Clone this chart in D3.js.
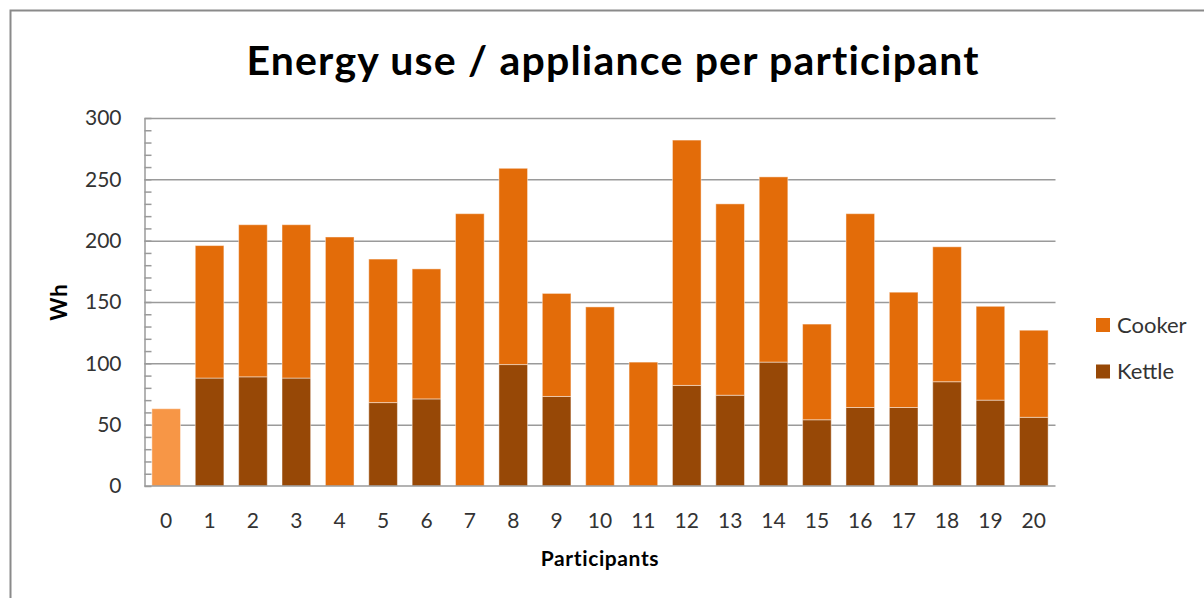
<!DOCTYPE html>
<html lang="en">
<head>
  <meta charset="UTF-8">
  <title>Energy use / appliance per participant</title>
</head>
<body>
<style>
  * {
    padding: 0;
    margin: 0;
  }

  body {
    background: #fff;
  }

  #app {
    width: 1204px;
    height: 598px;
  }

  text {
    font-family: Lato, "Open Sans", sans-serif;
  }
</style>

<div id="app"></div>

<script src="https://cdn.jsdelivr.net/npm/d3@7"></script>
<script>
  // values
  let participants = d3.range(0, 21).map(String)
  let kettle = [0, 88, 89, 88, 0, 68, 71, 0, 99, 73, 0, 0, 82, 74, 101, 54, 64, 64, 85, 70, 56]
  let cooker = [63, 108, 124, 125, 203, 117, 106, 222, 160, 84, 146, 101, 200, 156, 151, 78, 158, 94, 110, 76.5, 71]
  let seriesNames = ["Kettle", "Cooker"]
  let yTicks = [0, 50, 100, 150, 200, 250, 300]

  let $width = 1204, $height = 598
  let $left = 144.5, $right = 1055.5, $top = 118, $bottom = 486
  let colors = {Cooker: "#E36C09", Kettle: "#974806"}
  let firstColor = "#F79646"

  let rows = participants.map(function (p, i) {
    return {p: p, Kettle: kettle[i], Cooker: cooker[i]}
  })

  let stacked = d3.stack().keys(seriesNames)(rows)

  let svg = d3.select("#app").append("svg").attr("width", $width).attr("height", $height)

  // chart area border (runs off the right and bottom edge)
  svg.append("rect").attr("x", 10.5).attr("y", 10.5).attr("width", 1400).attr("height", 800)
    .attr("fill", "none").attr("stroke", "#8a8a8a").attr("stroke-width", 2)

  let x = d3.scaleBand().domain(participants).range([$left, $right])
    .paddingInner(0.34).paddingOuter(0.17)
  let y = d3.scaleLinear().domain([0, 300]).range([$bottom, $top])

  // gridlines
  svg.append("g").attr("transform", "translate(" + $left + ",0)")
    .call(d3.axisLeft(y).tickValues(yTicks.slice(1)).tickSize(-($right - $left)).tickFormat(""))
    .call(function (g) {
      g.select(".domain").remove()
      g.selectAll("line").attr("stroke", "#9a9a9a").attr("stroke-width", 1.5)
    })

  // bars
  svg.append("g").selectAll("g").data(stacked).enter().append("g")
    .each(function (s) {
      d3.select(this).selectAll("rect").data(s).enter().append("rect")
        .attr("x", function (d) { return x(d.data.p) })
        .attr("width", x.bandwidth())
        .attr("y", function (d) { return y(d[1]) })
        .attr("height", function (d) { return y(d[0]) - y(d[1]) })
        .attr("fill", function (d, i) {
          if (s.key == "Cooker" && i == 0) return firstColor
          return colors[s.key]
        })
        .attr("stroke", "rgba(255,255,255,0.45)")
        .attr("stroke-width", 1)
        .style("display", function (d) { return d[1] - d[0] > 0 ? null : "none" })
    })

  // y axis with minor ticks
  svg.append("g").attr("transform", "translate(" + $left + ",0)")
    .call(d3.axisLeft(y).tickValues(d3.range(0, 301, 10)).tickSizeInner(-7).tickSizeOuter(0).tickPadding(23)
      .tickFormat(function (d) { return d % 50 == 0 ? d : "" }))
    .call(function (g) {
      g.select(".domain").attr("stroke", "#9a9a9a").attr("stroke-width", 1.5)
      g.selectAll("line").attr("stroke", "#9a9a9a").attr("stroke-width", 1.5)
      g.selectAll("text").attr("font-size", "21px").attr("fill", "#333").attr("font-family", "Lato")
    })

  // x axis
  svg.append("g").attr("transform", "translate(0," + $bottom + ")")
    .call(d3.axisBottom(x).tickSize(0).tickPadding(27))
    .call(function (g) {
      g.select(".domain").attr("stroke", "#9a9a9a").attr("stroke-width", 1.5)
        .attr("d", "M" + $left + ",0H" + $right)
      g.selectAll("text").attr("font-size", "21px").attr("fill", "#333").attr("font-family", "Lato")
    })

  // titles
  svg.append("text").text("Energy use / appliance per participant")
    .attr("x", 613).attr("y", 75).attr("text-anchor", "middle")
    .attr("font-size", "41px").attr("font-weight", "bold").attr("fill", "#000")
    .attr("letter-spacing", "1.2px")

  svg.append("text").text("Participants")
    .attr("x", ($left + $right) / 2).attr("y", 566).attr("text-anchor", "middle")
    .attr("font-size", "21px").attr("font-weight", "bold").attr("fill", "#000")
    .attr("letter-spacing", "0.6px")

  svg.append("text").text("Wh")
    .attr("transform", "translate(67," + ($top + $bottom) / 2 + ") rotate(-90)")
    .attr("text-anchor", "middle")
    .attr("font-size", "22px").attr("font-weight", "bold").attr("fill", "#000")
    .attr("letter-spacing", "1px")

  // legend
  let legend = svg.append("g").selectAll("g").data(["Cooker", "Kettle"]).enter().append("g")
    .attr("transform", function (d, i) { return "translate(1096," + (318 + i * 46.5) + ")" })
  legend.append("rect").attr("width", 14).attr("height", 14)
    .attr("fill", function (d) { return colors[d] })
  legend.append("text").text(function (d) { return d })
    .attr("x", 21).attr("y", 7).attr("dy", "0.35em")
    .attr("font-size", "22px").attr("fill", "#333")
</script>
</body>
</html>
